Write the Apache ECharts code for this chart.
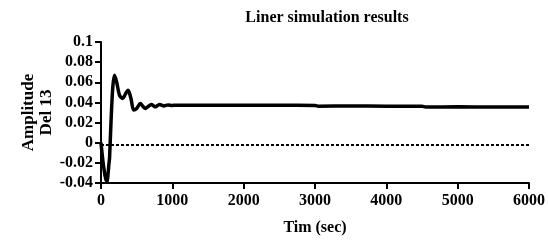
<!DOCTYPE html>
<html>
<head>
<meta charset="utf-8">
<script src="https://cdn.jsdelivr.net/npm/echarts@6/dist/echarts.min.js"></script>
<style>
  html, body { margin: 0; padding: 0; background: #fff; }
  #main { width: 548px; height: 243px; }
</style>
</head>
<body>
<div id="main"></div>
<script>
// response
var timeSec = [0, 30, 60, 85, 100, 110, 120, 140, 165, 190, 220, 260, 304, 340, 379, 420, 458, 500, 552, 590, 622, 660, 706, 740, 762, 820, 880, 940, 1000, 1040, 1500, 2000, 2500, 3000, 3050, 3500, 4000, 4500, 4550, 5000, 5500, 6000];
var amplitude = [0.0, -0.02, -0.034, -0.039, -0.03, -0.022, -0.015, 0.02, 0.055, 0.067, 0.06, 0.047, 0.044, 0.048, 0.052, 0.044, 0.0325, 0.034, 0.039, 0.036, 0.034, 0.036, 0.038, 0.0365, 0.0357, 0.038, 0.0365, 0.0375, 0.037, 0.0372, 0.0372, 0.0371, 0.0371, 0.037, 0.0362, 0.0365, 0.0362, 0.0362, 0.0355, 0.0356, 0.0355, 0.0354];
// dotted reference line
var refTime = [0, 6000];
var refValue = [-0.0023, -0.0023];

var myChart = echarts.init(document.getElementById('main'));

function pairs(xs, ys) {
  var out = [];
  for (var i = 0; i < xs.length; i++) out.push([xs[i], ys[i]]);
  return out;
}

var font = 'Liberation Serif';

var option = {
  animation: false,
  title: {
    text: 'Liner simulation results',
    left: 322,
    textAlign: 'center',
    top: 5,
    textStyle: { fontFamily: font, fontSize: 16, fontWeight: 'bold', color: '#000' }
  },
  grid: { left: 101, right: 19, top: 42, bottom: 60 },
  xAxis: {
    type: 'value',
    min: 0, max: 6000, interval: 1000,
    name: 'Tim (sec)',
    nameLocation: 'middle',
    nameGap: 37,
    nameMoveOverlap: false,
    nameTextStyle: { fontFamily: font, fontSize: 16, fontWeight: 'bold', color: '#000' },
    axisLine: { show: true, onZero: false, lineStyle: { color: '#000', width: 2 } },
    axisTick: { show: true, inside: false, length: 6, lineStyle: { color: '#000', width: 2 } },
    axisLabel: { margin: 10, fontFamily: font, fontSize: 16, fontWeight: 'bold', color: '#000',
      formatter: function (v) { return String(v); } },
    splitLine: { show: false }
  },
  yAxis: {
    type: 'value',
    min: -0.04, max: 0.1, interval: 0.02,
    name: 'Amplitude\nDel 13',
    nameLocation: 'middle',
    nameRotate: 90,
    nameGap: 45,
    nameMoveOverlap: false,
    nameTextStyle: { fontFamily: font, fontSize: 17, fontWeight: 'bold', color: '#000', lineHeight: 18 },
    axisLine: { show: true, onZero: false, lineStyle: { color: '#000', width: 2 } },
    axisTick: { show: true, inside: false, length: 6, lineStyle: { color: '#000', width: 2 } },
    axisLabel: { margin: 8, fontFamily: font, fontSize: 16, fontWeight: 'bold', color: '#000' },
    splitLine: { show: false }
  },
  series: [
    {
      name: 'ref',
      type: 'line',
      data: pairs(refTime, refValue),
      symbol: 'none',
      lineStyle: { color: '#000', width: 2, type: [3, 2] }
    },
    {
      name: 'response',
      type: 'line',
      data: pairs(timeSec, amplitude),
      symbol: 'none',
      smooth: 0.3,
      lineStyle: { color: '#000', width: 3.5 }
    }
  ]
};
myChart.setOption(option);
</script>
</body>
</html>
